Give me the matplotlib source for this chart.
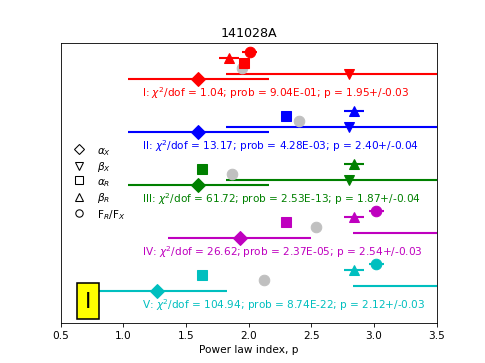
import matplotlib
matplotlib.use("Agg")
import matplotlib.pyplot as plt
from matplotlib.lines import Line2D

groups = ["I", "II", "III", "IV", "V"]
colors = ["r", "b", "g", "m", "c"]
alpha_x = [1.60, 1.60, 1.60, 1.93, 1.27]
alpha_x_err = [0.56, 0.56, 0.56, 0.57, 0.56]
beta_x = [2.80, 2.80, 2.80, 3.81, 3.81]
beta_x_err = [0.98, 0.98, 0.98, 0.98, 0.98]
alpha_r = [1.96, 2.30, 1.63, 2.30, 1.63]
beta_r = [1.84, 2.84, 2.84, 2.84, 2.84]
beta_r_err = [0.08, 0.08, 0.08, 0.08, 0.08]
flux_ratio = [2.01, None, None, 3.02, 3.02]
flux_ratio_err = [0.06, None, None, 0.06, 0.06]
p_fit = [1.95, 2.40, 1.87, 2.54, 2.12]
p_err = [0.03, 0.04, 0.04, 0.03, 0.03]
chi2_dof = [1.04, 13.17, 61.72, 26.62, 104.94]
prob = ["9.04E-01", "4.28E-03", "2.53E-13", "2.37E-05", "8.74E-22"]
row_base = [4.6, 3.6, 2.6, 1.6, 0.6]

fig = plt.figure(figsize=(6.4, 4.8))
ax = fig.add_subplot(111)
ms = 10

for i, g in enumerate(groups):
    c = colors[i]
    y = row_base[i]
    ax.errorbar(alpha_x[i], y, xerr=alpha_x_err[i], fmt="D", color=c, ms=ms, elinewidth=2)
    ax.errorbar(beta_x[i], y + 0.1, xerr=beta_x_err[i], fmt="v", color=c, ms=ms, elinewidth=2)
    ax.plot(p_fit[i], y + 0.21, "o", color="silver", ms=ms)
    ax.plot(alpha_r[i], y + 0.30, "s", color=c, ms=ms)
    ax.errorbar(beta_r[i], y + 0.40, xerr=beta_r_err[i], fmt="^", color=c, ms=ms, elinewidth=2)
    if flux_ratio[i] is not None:
        ax.errorbar(flux_ratio[i], y + 0.51, xerr=flux_ratio_err[i], fmt="o", color=c, ms=ms, elinewidth=2)
    label = "%s: $\\chi^2$/dof = %.2f; prob = %s; p = %.2f+/-%.2f" % (g, chi2_dof[i], prob[i], p_fit[i], p_err[i])
    ax.text(1.15, y - 0.25, label, color=c, va="center", ha="left", fontsize=10)

handles = [Line2D([], [], ls="", marker=m, mfc="w", mec="k", ms=7)
           for m in ["D", "v", "s", "^", "o"]]
labels = [r"$\alpha_X$", r"$\beta_X$", r"$\alpha_R$", r"$\beta_R$", r"F$_R$/F$_X$"]
ax.legend(handles, labels, loc="center left", frameon=False, numpoints=1,
          handlelength=1.5, handletextpad=1.0, borderaxespad=0.6, labelspacing=0.25)

ax.text(0.72, 0.41, "I", fontsize=21, ha="center", va="center", zorder=10,
        bbox=dict(boxstyle="square,pad=0.35", fc="yellow", ec="k", lw=1.5))

ax.set_xlim(0.5, 3.5)
ax.set_ylim(0, 5.28)
ax.set_yticks([])
ax.set_xlabel("Power law index, p")
ax.set_title("141028A")
fig.savefig("out.png", dpi=75.8)
